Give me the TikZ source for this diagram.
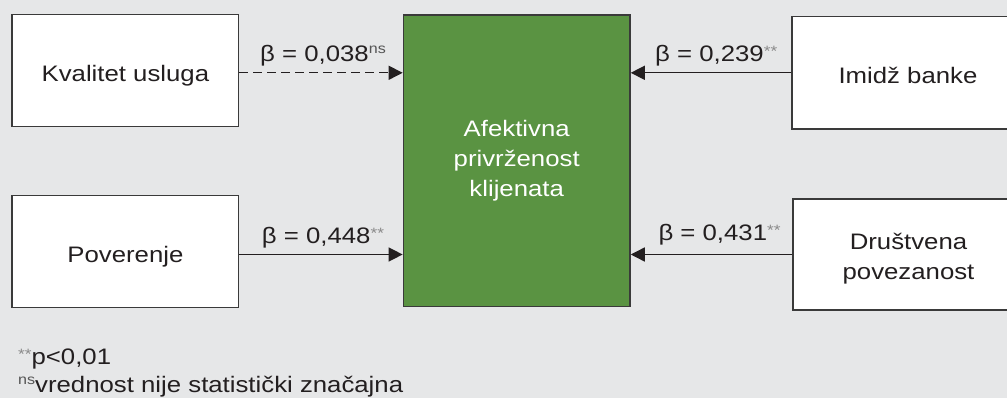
\documentclass[tikz,border=0pt]{standalone}
\usepackage{fontspec}
\setmainfont{Liberation Sans}[FakeStretch=1.15]
\usetikzlibrary{arrows.meta}
\definecolor{bg}{HTML}{E6E7E8}
\definecolor{boxline}{HTML}{3A3A3A}
\definecolor{txt}{HTML}{231F20}
\definecolor{grn}{HTML}{5A9342}
\definecolor{stargray}{HTML}{8A8A8A}
\definecolor{nsgray}{HTML}{555555}
\newcommand\supstar{\raisebox{5pt}{\fontsize{15}{15}\selectfont\color{stargray}**}}
\newcommand\supns{\raisebox{8pt}{\fontsize{14}{14}\selectfont\color{nsgray}ns}}
\tikzset{
  box/.style={draw=boxline, line width=1.4pt, fill=white, inner sep=0pt, align=center,
    text=txt, font=\fontsize{22.4}{30}\selectfont},
  oneline/.style={text height=22pt, text depth=0pt},
  boxtxt/.style={inner sep=0pt, align=center, text=txt, font=\fontsize{22.4}{30}\selectfont},
  mainbox/.style={box, fill=grn, text=white},
  arr/.style={draw=txt, line width=1.4pt, -{Triangle[length=14pt,width=14pt]}},
  lbl/.style={anchor=base west, inner sep=0pt, text=txt, font=\fontsize{22.4}{30}\selectfont},
  note/.style={anchor=base west, inner sep=0pt, text=txt, font=\fontsize{22.4}{30}\selectfont}
}
\begin{document}
\begin{tikzpicture}[x=1pt,y=-1pt]
\useasboundingbox (0,0) rectangle (1007,398);
\clip (0,0) rectangle (1007,398);
\fill[bg] (0,0) rectangle (1007,398);

\node[box, oneline, minimum width=226.7pt, minimum height=112pt] (kval) at (125.4,70.7) {Kvalitet usluga};
\node[box, oneline, minimum width=226.7pt, minimum height=111.6pt] (pov) at (125.4,251.5) {Poverenje};
\node[box, oneline, minimum width=232pt, minimum height=112.3pt] (imidz) at (908,72.8) {Imidž banke};
\node[box, minimum width=231pt, minimum height=111pt] (drus) at (908.5,254.5) {};
\node[boxtxt] (drustxt) at ([yshift=-4.6pt]drus.center) {Društvena\\povezanost};
\node[mainbox, minimum width=226.7pt, minimum height=291.7pt] (afek) at (516.7,160.8) {Afektivna\\privrženost\\klijenata};

\draw[arr, dash pattern=on 9pt off 5pt] (kval.east |- imidz.west) -- (afek.west |- imidz.west);
\draw[arr] (pov.east |- drus.west) -- (afek.west |- drus.west);
\draw[arr] (imidz.west) -- (afek.east |- imidz.west);
\draw[arr] (drus.west) -- (afek.east |- drus.west);

\node[lbl] (l1) at (260,62) {β = 0,038\supns};
\node[lbl] (l2) at (261.7,243.3) {β = 0,448\supstar};
\node[lbl] (l3) at (655,61.7) {β = 0,239\supstar};
\node[lbl] (l4) at (658.3,240.7) {β = 0,431\supstar};

\node[note] (n1) at (18,364) {\supstar p<0,01};
\node[note] (n2) at (18,392) {\supns vrednost nije statistički značajna};
\end{tikzpicture}
\end{document}
